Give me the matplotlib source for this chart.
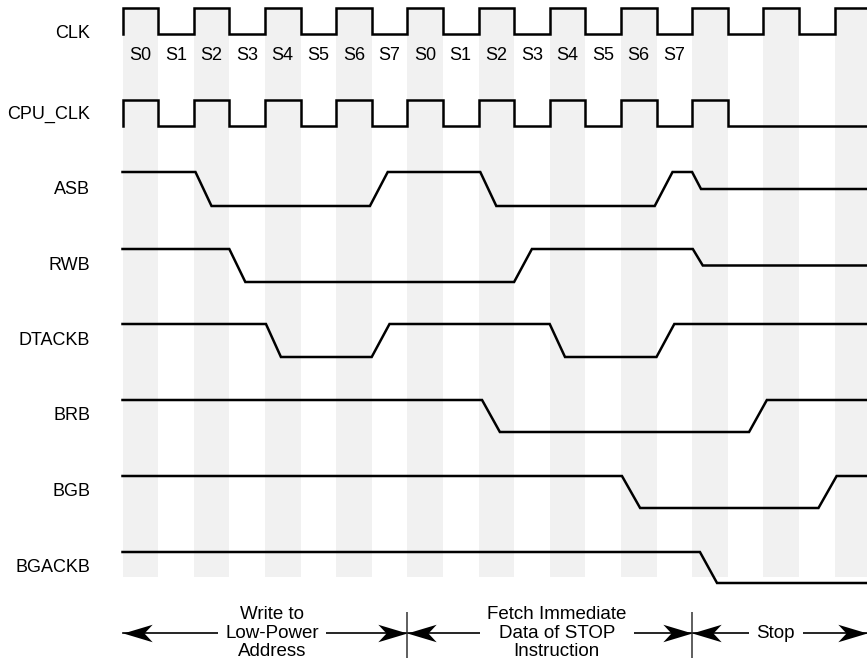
import matplotlib
matplotlib.use('Agg')
import matplotlib.pyplot as plt
from matplotlib.path import Path
import numpy as np

plt.rcParams['font.family'] = ['Liberation Sans', 'DejaVu Sans']

# ---- data (time unit = one state = half a CLK period) ----
signal_names = ['CLK', 'CPU_CLK', 'ASB', 'RWB', 'DTACKB', 'BRB', 'BGB', 'BGACKB']
state_labels = ['S0', 'S1', 'S2', 'S3', 'S4', 'S5', 'S6', 'S7'] * 2
n_states = 21

# clock levels per state (1 = high, 0 = low)
clk_levels = [1, 0] * 10 + [1]
cpu_clk_levels = [1, 0] * 8 + [1] + [0, 0, 0, 0]

# other signals: (time, level) breakpoints; 0.5 = high impedance
asb = [(0, 1), (2.05, 1), (2.5, 0), (6.95, 0), (7.45, 1), (10.05, 1), (10.5, 0),
       (14.95, 0), (15.45, 1), (16.0, 1), (16.25, 0.5), (22, 0.5)]
rwb = [(0, 1), (3.0, 1), (3.45, 0), (11.0, 0), (11.5, 1), (16.02, 1), (16.3, 0.5), (22, 0.5)]
dtackb = [(0, 1), (4.03, 1), (4.45, 0), (7.0, 0), (7.5, 1), (12.0, 1), (12.43, 0),
          (15.0, 0), (15.5, 1), (22, 1)]
brb = [(0, 1), (10.1, 1), (10.6, 0), (17.6, 0), (18.1, 1), (22, 1)]
bgb = [(0, 1), (14.03, 1), (14.54, 0), (19.55, 0), (20.06, 1), (22, 1)]
bgackb = [(0, 1), (16.22, 1), (16.7, 0), (22, 0)]

phase_bounds = [0, 8, 16, 20.9]
phase_labels = ['Write to\nLow-Power\nAddress',
                'Fetch Immediate\nData of STOP\nInstruction',
                'Stop']
phase_label_x = [4.2, 12.2, 18.35]

# ---- layout (vertical positions in pixel-like units, top = 0) ----
row_high = [8, 100, 172, 249, 324, 400, 476, 552]
row_low = [34, 126, 206, 282, 357, 432, 508, 583]
px_per_state = 35.6
x0_px = 122.5
W, H = 867, 666

fig = plt.figure(figsize=(W / 100, H / 100), dpi=100)
ax = fig.add_axes([0, 0, 1, 1])
ax.set_xlim(-x0_px / px_per_state, (W - x0_px) / px_per_state)
ax.set_ylim(H, 0)
ax.axis('off')

# state stripes
even_states = np.arange(0, n_states, 2)
ax.bar(even_states, 577 - 7, bottom=7, width=1, align='edge',
       color='#f1f1f1', edgecolor='none', zorder=0)


def clock_trace(levels):
    t, l = [0], [0]
    for k, v in enumerate(levels):
        t += [k, k + 1]
        l += [v, v]
    return np.array(t, float), np.array(l, float)


traces = [clock_trace(clk_levels), clock_trace(cpu_clk_levels)]
for sig in [asb, rwb, dtackb, brb, bgb, bgackb]:
    arr = np.array(sig, float)
    traces.append((arr[:, 0], arr[:, 1]))

for i, (name, (t, lv)) in enumerate(zip(signal_names, traces)):
    hi, lo = row_high[i], row_low[i]
    y = lo + (hi - lo) * lv
    ax.plot(t, y, color='black', lw=1.8, solid_joinstyle='miter', zorder=3)
    ymid = (hi + lo) / 2 if i > 0 else lo
    if i == 1:
        ymid = 114
    ax.text((90 - x0_px) / px_per_state, ymid, name, ha='right', va='center',
            fontsize=13, color='black')

# state labels under CLK
for k, s in enumerate(state_labels):
    ax.text(k + 0.5, 56, s, ha='center', va='center', fontsize=13, color='black')

# phase arrows
arrow_y = 633
right_head = Path([(0, 0), (-1, 0.3), (-0.72, 0), (-1, -0.3), (0, 0)],
                  [Path.MOVETO, Path.LINETO, Path.LINETO, Path.LINETO, Path.CLOSEPOLY])
left_head = Path([(0, 0), (1, 0.3), (0.72, 0), (1, -0.3), (0, 0)],
                 [Path.MOVETO, Path.LINETO, Path.LINETO, Path.LINETO, Path.CLOSEPOLY])
for a, b, lab, lx in zip(phase_bounds[:-1], phase_bounds[1:], phase_labels, phase_label_x):
    ax.plot([a, b], [arrow_y, arrow_y], color='black', lw=1.2, zorder=2)
    ax.plot([a], [arrow_y], marker=left_head, markersize=42, color='black',
            markeredgewidth=0, zorder=4)
    ax.plot([b], [arrow_y], marker=right_head, markersize=42, color='black',
            markeredgewidth=0, zorder=4)
    ax.text(lx, arrow_y, lab, ha='center', va='center', fontsize=13.5, linespacing=1.1,
            zorder=3, bbox=dict(fc='white', ec='none', boxstyle='square,pad=0.4'))

ax.vlines(phase_bounds[1:3], 612, 658, color='#333333', lw=1.1, zorder=5)

fig.savefig('out.png', dpi=100)
